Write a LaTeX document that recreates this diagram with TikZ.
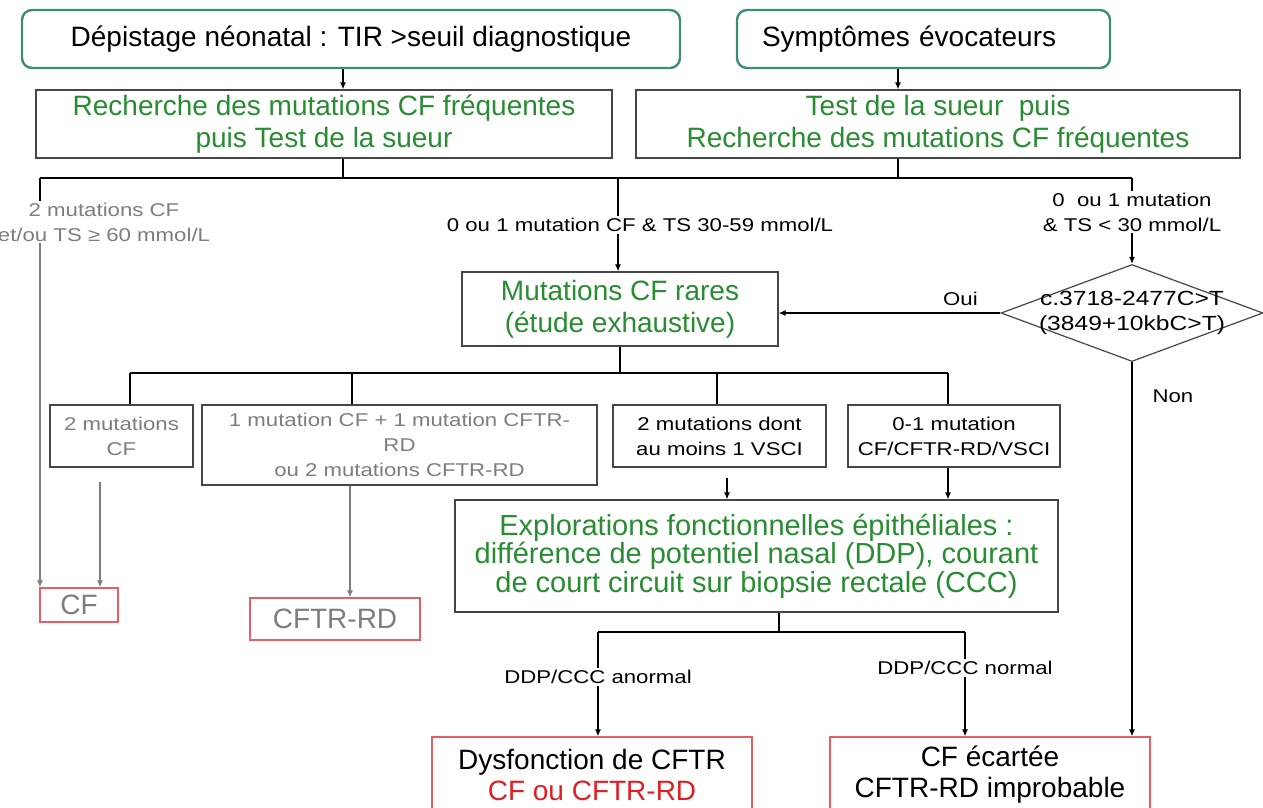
\documentclass[tikz,border=0pt]{standalone}
\usepackage{fontspec}
\setmainfont{Liberation Sans}
\newfontfamily\lblfont[FakeStretch=1.2]{Liberation Sans}
\usetikzlibrary{shapes.geometric, arrows.meta, positioning, calc}

\definecolor{tealbd}{RGB}{62,140,120}
\definecolor{greentx}{RGB}{40,140,50}
\definecolor{graytx}{RGB}{125,125,125}
\definecolor{redbd}{RGB}{225,95,105}
\definecolor{redtx}{RGB}{225,30,35}
\definecolor{boxbd}{RGB}{70,70,70}

\newcommand{\bigtxt}{\fontsize{28}{32}\selectfont}
\newcommand{\lbltxt}{\lblfont\fontsize{18.5}{25}\selectfont}

\begin{document}
\begin{tikzpicture}[x=1pt, y=-1pt, >={Latex[length=7pt,width=6pt]},
  startbox/.style={draw=tealbd, line width=2.4pt, rounded corners=10pt, font=\bigtxt, inner sep=0pt},
  greenbox/.style={draw=boxbd, line width=1.3pt, text=greentx, align=center, font=\bigtxt, inner sep=0pt},
  mutbox/.style={draw=boxbd, line width=1.3pt, align=center, font=\lbltxt, inner sep=0pt, minimum height=62pt},
  resbox/.style={draw=redbd, line width=1.3pt, align=center, font=\bigtxt, inner sep=0pt},
  lbl/.style={font=\lbltxt, align=center, inner sep=2pt},
  link/.style={line width=1.2pt},
  glink/.style={line width=1.2pt, draw=graytx}
]
\useasboundingbox (0,0) rectangle (1263,808);

% entry points
\node[startbox, minimum width=658pt, minimum height=58pt] (depist) at (351,39) {Dépistage néonatal\ : TIR >seuil diagnostique};
\node[startbox, minimum height=58pt, text width=323pt, align=left, inner xsep=25pt] (sympt) at (923.5,39) {Symptômes évocateurs};

% first tests
\node[greenbox, minimum width=576pt, minimum height=68pt] (rech) at (324,124) {Recherche des mutations CF fréquentes\\puis Test de la sueur};
\node[greenbox, minimum width=604pt, minimum height=68pt] (sueur) at (938,124) {Test de la sueur\ \ puis\\Recherche des mutations CF fréquentes};

\coordinate (laneA) at (343,0);
\coordinate (laneB) at (898,0);
\coordinate (splitL) at (40,178);
\coordinate (splitM) at (618,178);
\coordinate (splitR) at (1132,178);

\draw[link,->] (depist.south -| laneA) -- (rech.north -| laneA);
\draw[link,->] (sympt.south -| laneB) -- (sueur.north -| laneB);
\draw[link] (rech.south -| laneA) -- (splitL -| laneA);
\draw[link] (sueur.south -| laneB) -- (splitL -| laneB);
\draw[link] (splitL) -- (splitR);

% results of the first tests
\node[lbl, text=graytx] (lbl2cf) at (104,222) {2 mutations CF\\et/ou TS ≥ 60 mmol/L};
\node[lbl] (lblmid) at (640,225) {0 ou 1 mutation CF \& TS 30-59 mmol/L};
\node[lbl] (lblright) at (1132,212) {0\ \ ou 1 mutation\\\& TS < 30 mmol/L};

\node[greenbox, minimum width=316pt, minimum height=74pt] (rares) at (620,309) {Mutations CF rares\\(étude exhaustive)};
\node[draw=boxbd, line width=1.2pt, diamond, aspect=2.7, minimum width=262pt, minimum height=97pt, inner sep=0pt] (diam) at (1132,313) {};
\node[font=\lblfont\fontsize{20.5}{25}\selectfont, align=center, inner sep=0pt] (diamtxt) at (diam.center) {c.3718-2477C>T\\(3849+10kbC>T)};

\draw[link] (splitL) -- (lbl2cf.north -| splitL);
\draw[link] (splitM) -- (lblmid.north -| splitM);
\draw[link,->] (lblmid.south -| splitM) -- (rares.north -| splitM);
\draw[link] (splitR) -- (lblright.north);
\draw[link,->] (lblright.south) -- (diam.north);
\draw[link,->] (diam.west) -- node[lbl, above, pos=0.18, yshift=5pt] {Oui} (rares.east |- diam.west);

% rare mutations
\coordinate (s2a) at (130,373);
\coordinate (s2b) at (352,373);
\coordinate (s2c) at (717,373);
\coordinate (s2d) at (948,373);

\node[mutbox, text=graytx, minimum width=143pt] (m2cf) at (121.5,436) {2 mutations\\CF};
\node[mutbox, text=graytx, minimum width=395pt, minimum height=80pt] (m1cf) at (399.5,445) {1 mutation CF + 1 mutation CFTR-\\RD\\ou 2 mutations CFTR-RD};
\node[mutbox, minimum width=213pt] (m2vs) at (719.5,436) {2 mutations dont\\au moins 1 VSCI};
\node[mutbox, minimum width=212pt] (m01) at (954,436) {0-1 mutation\\CF/CFTR-RD/VSCI};

\draw[link] (rares.south) -- (rares.south |- s2a);
\draw[link] (s2a) -- (s2d);
\draw[link] (s2a) -- (m2cf.north -| s2a);
\draw[link] (s2b) -- (m1cf.north -| s2b);
\draw[link] (s2c) -- (m2vs.north -| s2c);
\draw[link] (s2d) -- (m01.north -| s2d);

\node[resbox, text=graytx, minimum width=78pt, minimum height=34pt] (cf) at (79,605) {CF};
\node[resbox, text=graytx, minimum width=170pt, minimum height=42pt] (cfrd) at (335,619) {CFTR-RD};
\node[greenbox, minimum width=603pt, minimum height=112pt, font=\fontsize{29}{28.5}\selectfont] (explo) at (756.5,556) {Explorations fonctionnelles épithéliales :\\différence de potentiel nasal (DDP), courant\\de court circuit sur biopsie rectale (CCC)};

\coordinate (cfA) at (100,0);
\coordinate (rdX) at (350,0);
\coordinate (exA) at (727,0);

\draw[glink,->] (lbl2cf.south -| splitL) -- (cf.north -| splitL);
\draw[glink,->] ([yshift=-14pt]m2cf.south -| cfA) -- (cf.north -| cfA);
\draw[glink,->] (m1cf.south -| rdX) -- (cfrd.north -| rdX);
\draw[link,->] ([yshift=-10pt]m2vs.south -| exA) -- (explo.north -| exA);
\draw[link,->] (m01.south -| s2d) -- (explo.north -| s2d);

% functional explorations
\coordinate (s3) at (779,632);
\coordinate (s3a) at (598,632);
\coordinate (s3b) at (965,632);

\node[lbl] (lblan) at (598,677) {DDP/CCC anormal};
\node[lbl] (lblno) at (965,668) {DDP/CCC normal};

\node[resbox, minimum width=320pt, minimum height=76pt, font=\fontsize{28}{31}\selectfont] (dysf) at (592,775) {Dysfonction de CFTR\\\textcolor{redtx}{CF ou CFTR-RD}};
\node[resbox, minimum width=320pt, minimum height=76pt, font=\fontsize{28}{31}\selectfont] (ecart) at (990,775) {CF écartée\\CFTR-RD improbable};

\draw[link] (explo.south -| s3) -- (s3);
\draw[link] (s3a) -- (s3b);
\draw[link] (s3a) -- (lblan.north);
\draw[link,->] (lblan.south) -- (dysf.north -| lblan.south);
\draw[link] (s3b) -- (lblno.north);
\draw[link,->] (lblno.south) -- (ecart.north -| lblno.south);
\draw[link,->] (diam.south) -- node[lbl, right, pos=0.09, xshift=18pt] {Non} (ecart.north -| diam.south);
\end{tikzpicture}
\end{document}
